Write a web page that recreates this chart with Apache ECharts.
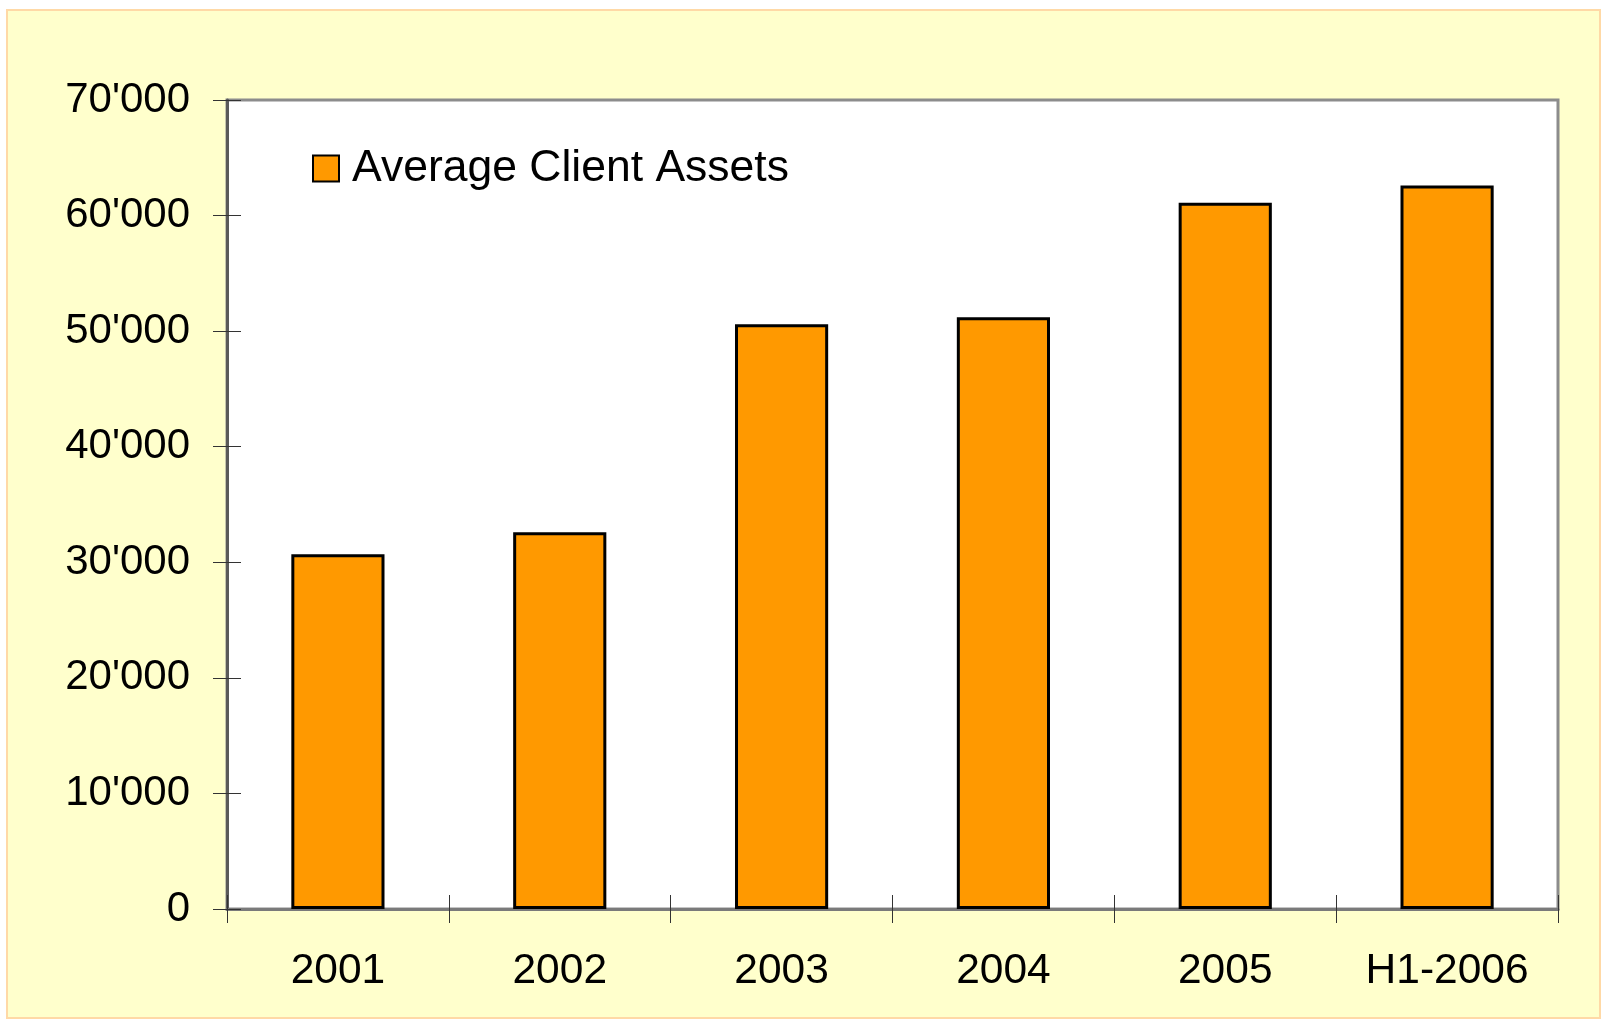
<!DOCTYPE html>
<html>
<head>
<meta charset="utf-8">
<title>Average Client Assets</title>
<script src="https://cdn.jsdelivr.net/npm/echarts@6/dist/echarts.min.js"></script>
<style>
  html, body { margin: 0; padding: 0; background: #fff; }
  #frame {
    position: absolute; left: 6px; top: 9px; width: 1591px; height: 1006px;
    background: #ffffcc; border: 2px solid #ffd9a6;
  }
  #chartDom { position: absolute; left: 0; top: 0; width: 1604px; height: 1021px; }
</style>
</head>
<body>
<div id="frame"></div>
<div id="chartDom"></div>
<script>
// values
var categories = ['2001', '2002', '2003', '2004', '2005', 'H1-2006'];
var clientAssets = [30700, 32600, 50600, 51200, 61100, 62600];
var seriesName = 'Average Client Assets';
var yMin = 0, yMax = 70000, yStep = 10000;

var font = '"Liberation Sans", Arial, sans-serif';

function thousands(v) {
    return String(v).replace(/\B(?=(\d{3})+(?!\d))/g, "'");
}

var chartDom = echarts.init(document.getElementById('chartDom'));
chartDom.setOption({
    backgroundColor: 'transparent',
    animation: false,
    textStyle: { fontFamily: font },
    grid: {
        left: 227, top: 100, right: 46, bottom: 112,
        show: true,
        backgroundColor: '#ffffff',
        borderColor: '#8c8c8c',
        borderWidth: 3
    },
    legend: {
        left: 312, top: 146,
        padding: 0,
        icon: 'rect',
        itemWidth: 26, itemHeight: 26,
        textStyle: { fontSize: 44.5, color: '#000', fontFamily: font, padding: [0, 0, 8, 8] },
        data: [seriesName]
    },
    xAxis: [{
        type: 'category',
        data: categories,
        boundaryGap: true,
        axisLine: { lineStyle: { color: '#7a7a7a', width: 3 } },
        axisTick: { show: true, inside: false, length: 14, lineStyle: { color: '#333', width: 1 } },
        axisLabel: { fontSize: 42.5, color: '#000', margin: 41, fontFamily: font },
        splitLine: { show: false }
    }, {
        type: 'category',
        data: categories,
        position: 'bottom',
        boundaryGap: true,
        axisLine: { show: false },
        axisTick: { show: true, inside: true, length: 14, lineStyle: { color: '#333', width: 1 } },
        axisLabel: { show: false },
        splitLine: { show: false }
    }],
    yAxis: [{
        type: 'value',
        min: yMin, max: yMax, interval: yStep,
        axisLine: { show: true, lineStyle: { color: '#5a5a5a', width: 3 } },
        axisTick: { show: true, inside: false, length: 14, lineStyle: { color: '#333', width: 1 } },
        axisLabel: {
            fontSize: 42, color: '#000', margin: 37, fontFamily: font,
            padding: [0, 0, 12, 0],
            formatter: thousands
        },
        splitLine: { show: false }
    }, {
        type: 'value',
        position: 'left',
        min: yMin, max: yMax, interval: yStep,
        axisLine: { show: false },
        axisTick: { show: true, inside: true, length: 14, lineStyle: { color: '#333', width: 1 } },
        axisLabel: { show: false },
        splitLine: { show: false }
    }],
    series: [{
        name: seriesName,
        type: 'bar',
        data: clientAssets,
        barWidth: '42%',
        itemStyle: { color: '#ff9900', borderColor: '#000', borderWidth: 3 }
    }]
});
</script>
</body>
</html>
